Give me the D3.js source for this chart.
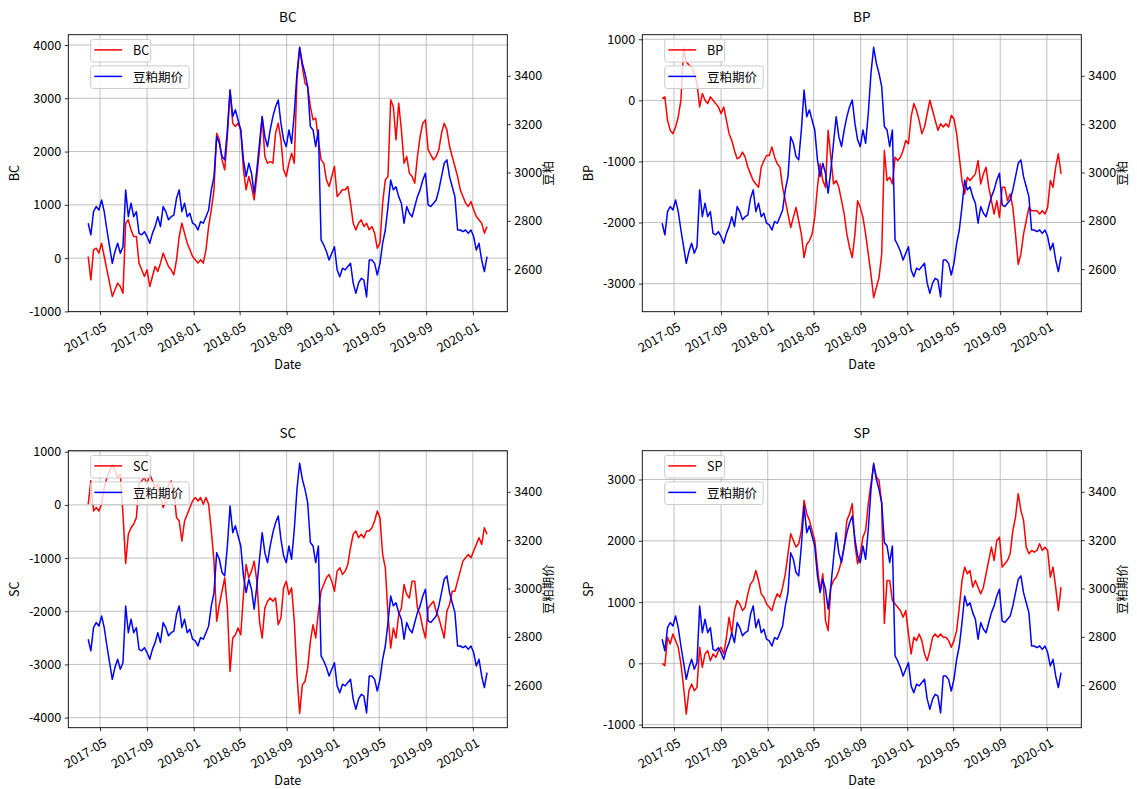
<!DOCTYPE html>
<html><head><meta charset="utf-8">
<script src="https://cdn.jsdelivr.net/npm/d3@7"></script>
<style>
html,body{margin:0;padding:0;background:#fff;}
svg text{font-family:"Noto Sans CJK SC","DejaVu Sans",sans-serif;fill:#000;}
</style></head><body>
<svg id="fig" width="1137" height="789"></svg>
<script>
// Weekly observation dates (Fridays)
const dates = d3.utcDay.range(new Date(Date.UTC(2017, 2, 31)), new Date(Date.UTC(2020, 1, 8)), 7);

// Soybean meal futures price (right axis in every panel)
const mealPrice = [
  2790,2742,2838,2859,2845,2886,2838,2762,2693,2624,
  2673,2707,2666,2693,2928,2817,2873,2817,2838,2748,
  2742,2755,2735,2707,2748,2776,2817,2776,2859,2838,
  2804,2817,2824,2893,2928,2838,2873,2817,2831,2790,
  2783,2762,2797,2790,2817,2845,2928,2983,3148,3121,
  3066,3052,3176,3341,3231,3259,3217,3176,3052,2983,
  3038,2997,2914,3010,3121,3231,3148,3107,3176,3231,
  3272,3300,3204,3135,3107,3176,3121,3245,3410,3518,
  3452,3410,3355,3190,3176,3107,3176,2721,2700,2673,
  2638,2666,2693,2597,2569,2604,2597,2611,2624,2542,
  2500,2542,2562,2555,2485,2638,2638,2624,2576,2624,
  2707,2762,2859,2969,2928,2941,2900,2873,2790,2859,
  2831,2817,2859,2900,2928,2969,2997,2866,2859,2873,
  2886,2928,2983,3038,3052,2983,2941,2900,2762,2762,
  2755,2762,2748,2762,2735,2679,2707,2638,2590,2652
];

const bcValues = [
  31,-407,156,187,94,281,31,-219,-469,-719,
  -594,-469,-532,-657,656,719,531,406,406,-94,
  -219,-344,-219,-532,-344,-156,-250,-94,94,-31,
  -156,-219,-313,-31,406,656,469,281,156,31,
  -31,-94,-31,-94,156,594,906,1282,2345,2220,
  1844,1657,2282,3157,2532,2470,2532,2407,1657,1282,
  1532,1344,1094,1532,2032,2657,1907,1782,1813,1782,
  2345,2532,2220,1657,1532,1782,1970,1782,3345,3950,
  3595,3282,3220,2845,2595,2626,2220,1844,1782,1469,
  1344,1532,1719,1157,1219,1282,1282,1344,1032,656,
  531,656,719,594,656,531,594,469,187,281,
  1032,1469,1532,2970,2845,2220,2907,2407,1782,1907,
  1594,1532,1407,1907,2282,2532,2595,2032,1938,1844,
  1907,2032,2345,2532,2407,2095,1907,1719,1532,1282,
  1157,1032,969,1063,907,782,719,656,469,594
];

const bpValues = [
  30,57,-327,-491,-546,-437,-272,2,860,633,
  578,550,441,276,-108,112,2,-53,57,2,
  -53,-108,-217,-108,-327,-546,-656,-820,-957,-930,
  -848,-930,-1094,-1204,-1313,-1368,-1423,-1094,-985,-903,
  -903,-765,-930,-1039,-1094,-1423,-1642,-1861,-2081,-1916,
  -1752,-1971,-2190,-2574,-2355,-2300,-2190,-1916,-1423,-1039,
  -1313,-1423,-491,-930,-1368,-1313,-1423,-1642,-1861,-2190,
  -2410,-2574,-2190,-1642,-1752,-1916,-2190,-2519,-2848,-3230,
  -3067,-2903,-2519,-820,-1313,-1259,-1368,-930,-985,-930,
  -820,-656,-711,-272,-53,-162,-327,-546,-437,-217,
  2,-162,-327,-491,-382,-437,-382,-437,-245,-300,
  -546,-930,-1313,-1533,-1259,-1313,-1259,-1204,-985,-1368,
  -1204,-1094,-1423,-1642,-1861,-1642,-1916,-1423,-1423,-1642,
  -1533,-1752,-2190,-2683,-2519,-2190,-1971,-1752,-1806,-1806,
  -1806,-1861,-1806,-1861,-1752,-1313,-1423,-1094,-875,-1204
];

const scValues = [
  13,453,-113,-50,-113,13,327,516,642,760,
  642,516,579,-176,-1100,-553,-428,-365,-239,390,
  453,516,390,579,453,327,390,138,-50,75,
  390,453,264,-239,-302,-679,-302,-176,-50,75,
  138,75,138,13,138,13,-491,-1057,-2189,-1874,
  -1623,-1371,-1937,-3132,-2503,-2441,-2315,-2441,-1686,-1120,
  -1371,-1245,-1057,-1434,-2189,-2503,-1937,-1812,-1749,-1812,
  -1749,-2252,-2126,-1560,-1434,-1686,-1560,-2189,-3195,-3920,
  -3384,-3321,-3070,-2566,-2252,-2503,-2000,-1623,-1497,-1371,
  -1308,-1434,-1623,-1245,-1182,-1308,-1245,-1120,-805,-553,
  -491,-616,-553,-616,-491,-491,-428,-302,-113,-239,
  -931,-1182,-2063,-2692,-2315,-2503,-2063,-1937,-1497,-1686,
  -1749,-1434,-1434,-1937,-2063,-2315,-2503,-1937,-1874,-1812,
  -2000,-2126,-2315,-2503,-2000,-1874,-1623,-1623,-1434,-1245,
  -1057,-994,-931,-994,-868,-742,-616,-742,-428,-553
];

const spValues = [
  0,-38,425,316,480,371,262,-11,-392,-828,
  -447,-338,-447,-392,262,-65,153,207,44,153,
  98,207,262,153,425,752,480,861,1025,970,
  861,916,1134,1297,1352,1515,1352,1134,1079,970,
  916,861,1025,1134,1079,1243,1461,1788,2115,2006,
  1897,1951,2169,2660,2442,2333,2169,2006,1570,1188,
  1461,698,534,1243,1352,1406,1515,1679,1897,2333,
  2442,2605,1951,1624,1788,2060,2169,2605,2932,3240,
  3041,2987,2605,650,1352,1352,1025,970,916,861,
  752,861,480,153,425,371,480,371,153,44,
  207,425,480,425,480,425,425,371,262,371,
  534,916,1352,1570,1461,1515,1243,1352,1243,1134,
  1243,1461,1679,1897,1679,2006,2060,1570,1624,1679,
  1788,2169,2387,2769,2496,2333,1897,1788,1842,1815,
  1842,1951,1842,1897,1842,1406,1570,1243,861,1243
];

// Tick labels and axis limits
const xTickLabels = ["2017-05","2017-09","2018-01","2018-05","2018-09","2019-01","2019-05","2019-09","2020-01"];
const dateLimits = ["2017-02-07", "2020-03-31"];
const rightTicks = [2600, 2800, 3000, 3200, 3400];
const rightLimits = [2424, 3570];
const bcTicks = [-1000, 0, 1000, 2000, 3000, 4000];
const bpTicks = [-3000, -2000, -1000, 0, 1000];
const scTicks = [-4000, -3000, -2000, -1000, 0, 1000];
const spTicks = [-1000, 0, 1000, 2000, 3000];
const bcLimits = [-1005, 4193];
const bpLimits = [-3460, 1075];
const scLimits = [-4190, 1020];
const spLimits = [-1050, 3470];

const panels = [
  {name: "BC", values: bcValues, ticks: bcTicks, limits: bcLimits, rightLabel: "豆粕", left: 68.3, top: 34.7},
  {name: "BP", values: bpValues, ticks: bpTicks, limits: bpLimits, rightLabel: "豆粕", left: 642.3, top: 34.7},
  {name: "SC", values: scValues, ticks: scTicks, limits: scLimits, rightLabel: "豆粕期价", left: 68.3, top: 450.7},
  {name: "SP", values: spValues, ticks: spTicks, limits: spLimits, rightLabel: "豆粕期价", left: 642.3, top: 450.7}
];

const W = 439, H = 277;
const FS = 12.6;          // tick / label font size
const parseDay = d3.utcParse("%Y-%m-%d");
const parseMonth = d3.utcParse("%Y-%m");
const svg = d3.select("#fig");
const gridColor = "#b0b0b0";

panels.forEach((p, k) => {
  const g = svg.append("g").attr("transform", `translate(${p.left},${p.top})`);
  const x = d3.scaleUtc().domain(dateLimits.map(parseDay)).range([0, W]);
  const yL = d3.scaleLinear().domain(p.limits).range([H, 0]);
  const yR = d3.scaleLinear().domain(rightLimits).range([H, 0]);
  const xTicks = xTickLabels.map(parseMonth);

  const clipId = "clip" + k;
  g.append("clipPath").attr("id", clipId).append("rect").attr("width", W).attr("height", H);

  // grid (primary axis)
  const grid = g.append("g");
  grid.selectAll("line.v").data(xTicks).join("line")
    .attr("x1", d => x(d)).attr("x2", d => x(d)).attr("y1", 0).attr("y2", H)
    .attr("stroke", gridColor).attr("stroke-width", 0.8);
  grid.selectAll("line.h").data(p.ticks).join("line")
    .attr("x1", 0).attr("x2", W).attr("y1", d => yL(d)).attr("y2", d => yL(d))
    .attr("stroke", gridColor).attr("stroke-width", 0.8);

  const n = Math.min(dates.length, p.values.length, mealPrice.length);
  const idx = d3.range(n);

  // primary series (red)
  g.append("path").attr("clip-path", `url(#${clipId})`)
    .datum(idx)
    .attr("fill", "none").attr("stroke", "#ff0000").attr("stroke-width", 1.5)
    .attr("stroke-linejoin", "round")
    .attr("d", d3.line().x(i => x(dates[i])).y(i => yL(p.values[i])));

  // legend box with a line sample
  const legend = (gy, w, color, label) => {
    const lg = g.append("g").attr("transform", `translate(22.4,${gy})`);
    lg.append("rect").attr("width", w).attr("height", 22.6).attr("rx", 2.5)
      .attr("fill", "rgba(255,255,255,0.8)").attr("stroke", "#cccccc").attr("stroke-width", 1);
    lg.append("line").attr("x1", 3.6).attr("x2", 31.5).attr("y1", 10.5).attr("y2", 10.5)
      .attr("stroke", color).attr("stroke-width", 1.5);
    lg.append("text").attr("x", 42.3).attr("y", 11.3).attr("dy", "0.35em")
      .style("font-size", "12.5px").text(label);
  };
  legend(4.7, 60, "#ff0000", p.name);

  // secondary series (blue)
  g.append("path").attr("clip-path", `url(#${clipId})`)
    .datum(idx)
    .attr("fill", "none").attr("stroke", "#0000ff").attr("stroke-width", 1.5)
    .attr("stroke-linejoin", "round")
    .attr("d", d3.line().x(i => x(dates[i])).y(i => yR(mealPrice[i])));
  legend(31.2, 98.5, "#0000ff", "豆粕期价");

  // frame
  g.append("rect").attr("width", W).attr("height", H).attr("fill", "none")
    .attr("stroke", "#000").attr("stroke-width", 0.9);

  // axes
  const fmtDate = d3.utcFormat("%Y-%m");
  const xa = g.append("g").attr("transform", `translate(0,${H})`)
    .call(d3.axisBottom(x).tickValues(xTicks).tickFormat(fmtDate).tickSize(3.5).tickPadding(3.5));
  xa.selectAll("text").style("font-size", FS + "px")
    .attr("text-anchor", "end").attr("dy", null).attr("y", null)
    .attr("transform", "translate(1,7.5) rotate(-30)").attr("dominant-baseline", "hanging");

  const la = g.append("g").call(d3.axisLeft(yL).tickValues(p.ticks).tickFormat(d3.format("d")).tickSize(3.5).tickPadding(3.5));
  la.selectAll("text").style("font-size", FS + "px");
  const ra = g.append("g").attr("transform", `translate(${W},0)`)
    .call(d3.axisRight(yR).tickValues(rightTicks).tickFormat(d3.format("d")).tickSize(3.5).tickPadding(3.5));
  ra.selectAll("text").style("font-size", FS + "px");
  [xa, la, ra].forEach(a => {
    a.select(".domain").remove();
    a.selectAll("line").attr("stroke", "#000").attr("stroke-width", 0.8);
    a.selectAll("text").attr("font-family", null).style("font-family", "'Noto Sans CJK SC', sans-serif");
  });
  la.selectAll("text").text(d => d3.format("d")(d).replace("\u2212", "-"));

  // labels
  g.append("text").attr("x", W / 2).attr("y", -17).attr("dy", "0.35em").attr("text-anchor", "middle")
    .style("font-size", "13.5px").text(p.name);
  g.append("text").attr("x", W / 2).attr("y", H + 52.5).attr("dy", "0.35em").attr("text-anchor", "middle")
    .style("font-size", FS + "px").text("Date");
  g.append("text").attr("transform", `translate(-54,${H / 2}) rotate(-90)`).attr("dy", "0.35em")
    .attr("text-anchor", "middle").style("font-size", FS + "px").text(p.name);
  g.append("text").attr("transform", `translate(${W + 41},${H / 2}) rotate(-90)`).attr("dy", "0.35em")
    .attr("text-anchor", "middle").style("font-size", "12.5px").text(p.rightLabel);
});
</script>
</body></html>
